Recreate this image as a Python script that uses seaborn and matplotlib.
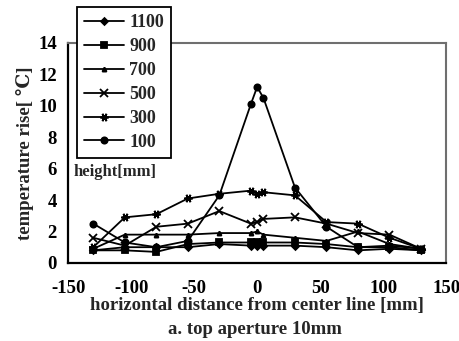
import numpy as np
import pandas as pd
import matplotlib
matplotlib.use("Agg")
import matplotlib.pyplot as plt
import seaborn as sns

# Horizontal positions of the measuring points [mm]
distance = [-130, -105, -80, -55, -30, -5, 0, 5, 30, 55, 80, 105, 130]

# Temperature rise [°C] at each measuring height [mm]
rise_1100 = [0.8, 1.0, 1.0, 1.0, 1.2, 1.1, 1.1, 1.1, 1.1, 1.0, 0.8, 0.9, 0.8]
rise_900 = [0.8, 0.8, 0.7, 1.2, 1.3, 1.3, 1.3, 1.3, 1.3, 1.2, 1.0, 1.0, 0.8]
rise_700 = [0.9, 1.8, 1.8, 1.8, 1.9, 1.9, 2.0, 1.8, 1.6, 1.4, 2.0, 1.2, 0.9]
rise_500 = [1.6, 1.1, 2.3, 2.5, 3.3, 2.5, 2.6, 2.8, 2.9, 2.5, 1.9, 1.8, 0.9]
rise_300 = [1.0, 2.9, 3.1, 4.1, 4.4, 4.6, 4.4, 4.5, 4.3, 2.6, 2.5, 1.6, 0.9]
rise_100 = [2.5, 1.3, 1.0, 1.4, 4.3, 10.1, 11.2, 10.5, 4.8, 2.3, 1.0, 1.1, 0.9]

heights = ["1100", "900", "700", "500", "300", "100"]
series = [rise_1100, rise_900, rise_700, rise_500, rise_300, rise_100]

frames = []
for h, vals in zip(heights, series):
    frames.append(pd.DataFrame({"distance": distance, "rise": vals, "height": h}))
df = pd.concat(frames, ignore_index=True)

sns.set_style("white")
plt.rcParams["font.family"] = ["Liberation Serif", "DejaVu Serif"]
plt.rcParams["font.weight"] = "bold"
plt.rcParams["axes.unicode_minus"] = False

marker_map = {"1100": "D", "900": "s", "700": "^", "500": "x", "300": (6, 2, 90), "100": "o"}
size_map = {"1100": 3.5, "900": 4.2, "700": 3, "500": 5.5, "300": 6, "100": 4.5}

fig = plt.figure(figsize=(4.6, 3.41), dpi=100)
ax = fig.add_axes([0.148, 0.229, 0.822, 0.645])

for h in heights:
    sub = df[df["height"] == h]
    sns.lineplot(data=sub, x="distance", y="rise", ax=ax, color="black",
                 marker=marker_map[h], markersize=size_map[h],
                 markeredgewidth=1.3, markeredgecolor="black",
                 linewidth=1.3, label=h, sort=False)

ax.set_xlim(-150, 150)
ax.set_ylim(0, 14)
ax.set_xticks(np.arange(-150, 151, 50))
ax.set_yticks(np.arange(0, 15, 2))
ax.tick_params(axis="both", direction="in", length=4, width=1.2, colors="black",
               labelsize=13.5)
ax.tick_params(axis="x", pad=12)
ax.tick_params(axis="y", pad=8)
for lab in ax.get_xticklabels() + ax.get_yticklabels():
    lab.set_fontweight("bold")

for side in ["left", "bottom"]:
    ax.spines[side].set_color("black")
    ax.spines[side].set_linewidth(1.6)
for side in ["top", "right"]:
    ax.spines[side].set_color("#6f6f6f")
    ax.spines[side].set_linewidth(1.5)

ax.set_xlabel("horizontal distance from center line [mm]", fontsize=13.5,
              fontweight="bold", labelpad=0)
ax.set_ylabel("temperature rise[ \u2103]", fontsize=13.5, fontweight="bold", labelpad=3)
fig.text(0.555, 0.034, "a. top aperture 10mm", ha="center", va="center",
         fontsize=13.5, fontweight="bold")

handles, labels = ax.get_legend_handles_labels()
leg = fig.legend(handles, labels, loc="upper left", bbox_to_anchor=(0.167, 0.979),
                 borderaxespad=0, frameon=True, fancybox=False, framealpha=1,
                 edgecolor="black", prop={"size": 13, "weight": "bold"},
                 handlelength=2.2, handletextpad=0.3, labelspacing=0.38,
                 borderpad=0.4)
leg.get_frame().set_linewidth(1.3)
if ax.get_legend():
    ax.get_legend().remove()

fig.text(0.160, 0.495, "height[mm]", ha="left", va="center", fontsize=12,
         fontweight="bold")

fig.savefig("out.png", dpi=100, facecolor="white")
